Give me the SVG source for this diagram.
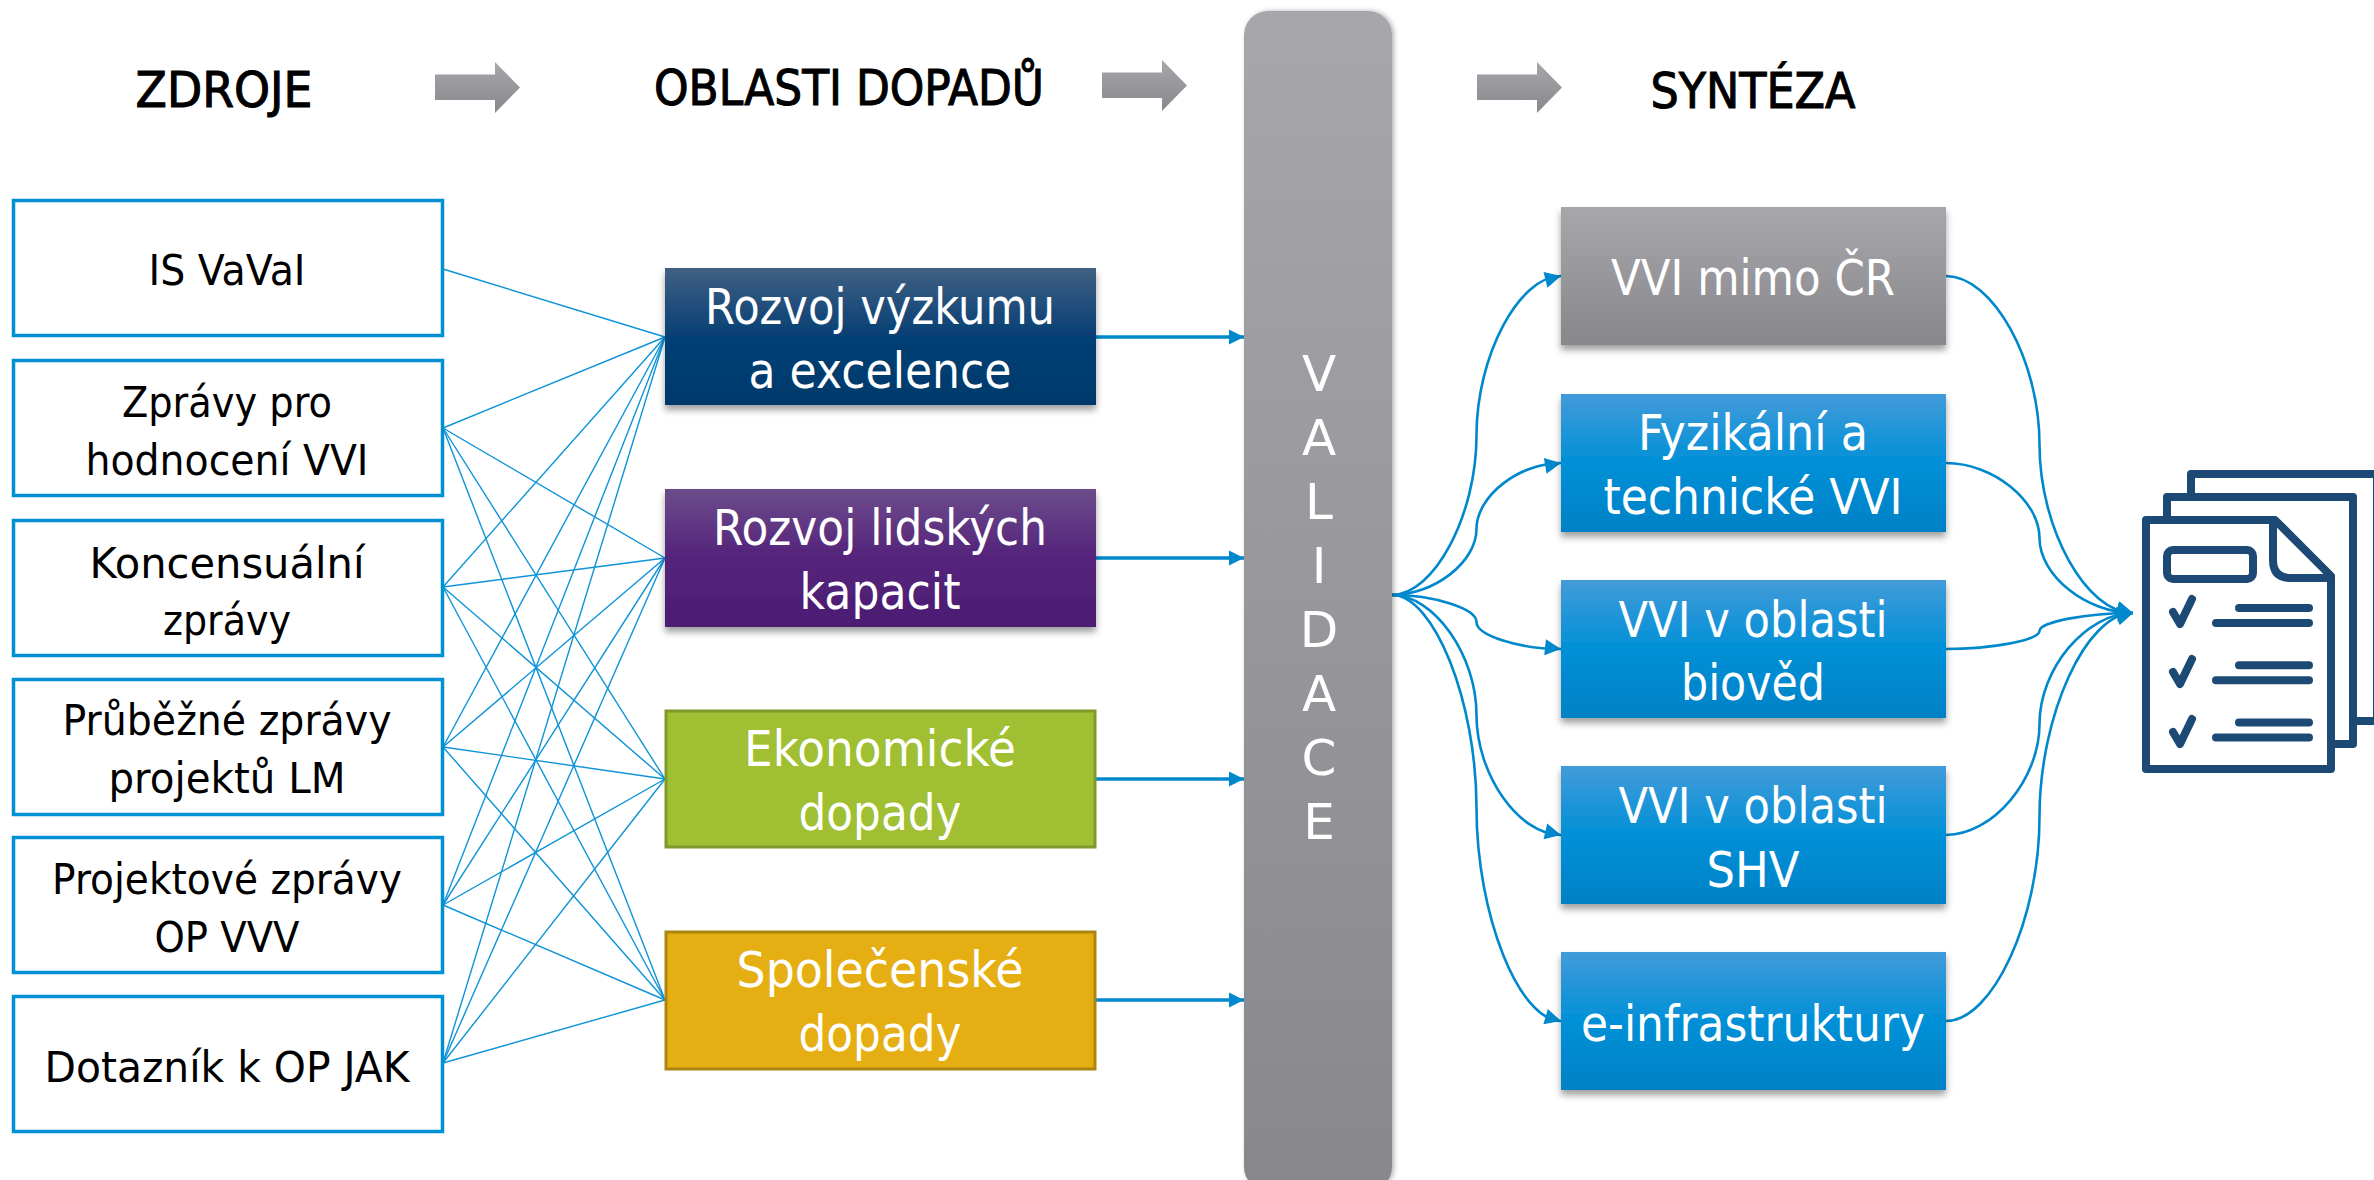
<svg xmlns="http://www.w3.org/2000/svg" width="2374" height="1180" viewBox="0 0 2374 1180">
<style>
text{font-family:"DejaVu Sans","Liberation Sans",sans-serif;text-anchor:middle}
.h{font-size:50px;fill:#000;stroke:#000;stroke-width:1.1px}
.s{font-size:42px;fill:#000}
.w{font-size:50px;fill:#fff}
.src{fill:#fff;stroke:#0090d4;stroke-width:3.5}
.fan{stroke:#0e93d8;stroke-width:1.4;fill:none}
.cv{stroke:#0088cc;stroke-width:2.6;fill:none}
.st{stroke:#0088cc;stroke-width:3.5;fill:none;marker-end:url(#arr)}
.ic{fill:none;stroke:#1c4a75;stroke-width:8;stroke-linejoin:round;stroke-linecap:round}
</style>
<defs>
<linearGradient id="gGray" x1="0" y1="0" x2="0" y2="1"><stop offset="0" stop-color="#a7a6aa"/><stop offset="1" stop-color="#88878c"/></linearGradient>
<linearGradient id="gNavy" x1="0" y1="0" x2="0" y2="1"><stop offset="0" stop-color="#416083"/><stop offset=".5" stop-color="#063f74"/><stop offset="1" stop-color="#03396c"/></linearGradient>
<linearGradient id="gPurple" x1="0" y1="0" x2="0" y2="1"><stop offset="0" stop-color="#6d4c8b"/><stop offset=".5" stop-color="#54237b"/><stop offset="1" stop-color="#4c1d72"/></linearGradient>
<linearGradient id="gBlue" x1="0" y1="0" x2="0" y2="1"><stop offset="0" stop-color="#439bd9"/><stop offset=".5" stop-color="#0090d7"/><stop offset="1" stop-color="#0081c6"/></linearGradient>
<filter id="sh" x="-10%" y="-10%" width="120%" height="125%"><feDropShadow dx="0" dy="5" stdDeviation="3.5" flood-color="#000" flood-opacity=".38"/></filter>
<filter id="shv" x="-10%" y="-2%" width="120%" height="104%"><feDropShadow dx="2" dy="0" stdDeviation="2.5" flood-color="#000" flood-opacity=".3"/></filter>
<marker id="arr" markerUnits="userSpaceOnUse" markerWidth="16" markerHeight="16" refX="15" refY="8" orient="auto"><path d="M0 0.5L15 8L0 15.5z" fill="#0088cc"/></marker>
<path id="head" d="M-16 -8L0 0L-16 8z" fill="#0088cc"/>
<path id="hdarrow" d="M0 12.5H60V0L85 25.5L60 51V38H0z" fill="url(#gGray)"/>
<path id="tick" class="ic" d="M2173 612L2180 624L2192 599"/>
<path id="rows" class="ic" d="M2239 608H2309M2216 623H2309"/>
</defs>

<rect width="2374" height="1180" fill="#fff"/>

<g id="headers">
<text class="h" x="224" y="107" textLength="177" lengthAdjust="spacingAndGlyphs">ZDROJE</text>
<text class="h" x="849" y="105" textLength="390" lengthAdjust="spacingAndGlyphs">OBLASTI DOPADŮ</text>
<text class="h" x="1753" y="108" textLength="205" lengthAdjust="spacingAndGlyphs">SYNTÉZA</text>
<use href="#hdarrow" x="435" y="62"/>
<use href="#hdarrow" x="1102" y="60"/>
<use href="#hdarrow" x="1477" y="62"/>
</g>

<g id="connectors">
<line class="fan" x1="443" y1="269" x2="665" y2="337"/>
<line class="fan" x1="443" y1="428" x2="665" y2="337"/><line class="fan" x1="443" y1="428" x2="665" y2="558"/><line class="fan" x1="443" y1="428" x2="665" y2="779"/><line class="fan" x1="443" y1="428" x2="665" y2="1000"/>
<line class="fan" x1="443" y1="587" x2="665" y2="337"/><line class="fan" x1="443" y1="587" x2="665" y2="558"/><line class="fan" x1="443" y1="587" x2="665" y2="779"/><line class="fan" x1="443" y1="587" x2="665" y2="1000"/>
<line class="fan" x1="443" y1="747" x2="665" y2="337"/><line class="fan" x1="443" y1="747" x2="665" y2="558"/><line class="fan" x1="443" y1="747" x2="665" y2="779"/><line class="fan" x1="443" y1="747" x2="665" y2="1000"/>
<line class="fan" x1="443" y1="905" x2="665" y2="337"/><line class="fan" x1="443" y1="905" x2="665" y2="558"/><line class="fan" x1="443" y1="905" x2="665" y2="779"/><line class="fan" x1="443" y1="905" x2="665" y2="1000"/>
<line class="fan" x1="443" y1="1063" x2="665" y2="337"/><line class="fan" x1="443" y1="1063" x2="665" y2="558"/><line class="fan" x1="443" y1="1063" x2="665" y2="779"/><line class="fan" x1="443" y1="1063" x2="665" y2="1000"/>
<line class="st" x1="1096" y1="337" x2="1244" y2="337"/>
<line class="st" x1="1096" y1="558" x2="1244" y2="558"/>
<line class="st" x1="1096" y1="779" x2="1244" y2="779"/>
<line class="st" x1="1096" y1="1000" x2="1244" y2="1000"/>
<path class="cv" d="M1392 595C1434 595 1476.500 515.250 1476.500 435.500C1476.500 355.750 1519 276 1561 276"/>
<path class="cv" d="M1392 595C1434 595 1476.500 562 1476.500 529C1476.500 496 1519 463 1561 463"/>
<path class="cv" d="M1392 595C1434 595 1476.500 608.500 1476.500 622C1476.500 635.500 1519 649 1561 649"/>
<path class="cv" d="M1392 595C1434 595 1476.500 655 1476.500 715C1476.500 775 1519 835 1561 835"/>
<path class="cv" d="M1392 595C1434 595 1476.500 701.500 1476.500 808C1476.500 914.500 1519 1021 1561 1021"/>
<use href="#head" transform="translate(1561 276) rotate(-14)"/>
<use href="#head" transform="translate(1561 463) rotate(-10)"/>
<use href="#head" transform="translate(1561 649) rotate(6)"/>
<use href="#head" transform="translate(1561 835) rotate(13)"/>
<use href="#head" transform="translate(1561 1021) rotate(16)"/>
<path class="cv" d="M1946 276C1992.750 276 2039.500 360.250 2039.500 444.500C2039.500 528.750 2086.250 613 2133 613"/>
<path class="cv" d="M1946 463C1992.750 463 2039.500 500.500 2039.500 538C2039.500 575.500 2086.250 613 2133 613"/>
<path class="cv" d="M1946 649C1992.750 649 2039.500 640 2039.500 631C2039.500 622 2086.250 613 2133 613"/>
<path class="cv" d="M1946 835C1992.750 835 2039.500 779.500 2039.500 724C2039.500 668.500 2086.250 613 2133 613"/>
<path class="cv" d="M1946 1021C1992.750 1021 2039.500 919 2039.500 817C2039.500 715 2086.250 613 2133 613"/>
<use href="#head" transform="translate(2133 613) rotate(14)"/>
<use href="#head" transform="translate(2133 613) rotate(10)"/>
<use href="#head" transform="translate(2133 613) rotate(-5)"/>
<use href="#head" transform="translate(2133 613) rotate(-13)"/>
<use href="#head" transform="translate(2133 613) rotate(-16)"/>
</g>

<g id="src-1"><rect class="src" x="13.500" y="200.500" width="429" height="135"/><text class="s" x="227" y="285" textLength="157" lengthAdjust="spacingAndGlyphs">IS VaVaI</text></g>
<g id="src-2"><rect class="src" x="13.500" y="360.500" width="429" height="135"/><text class="s" x="227" y="417" textLength="210" lengthAdjust="spacingAndGlyphs">Zprávy pro</text><text class="s" x="227" y="475" textLength="283" lengthAdjust="spacingAndGlyphs">hodnocení VVI</text></g>
<g id="src-3"><rect class="src" x="13.500" y="520.500" width="429" height="135"/><text class="s" x="227" y="578" textLength="275" lengthAdjust="spacingAndGlyphs">Koncensuální</text><text class="s" x="227" y="635" textLength="128" lengthAdjust="spacingAndGlyphs">zprávy</text></g>
<g id="src-4"><rect class="src" x="13.500" y="679.500" width="429" height="135"/><text class="s" x="227" y="735" textLength="329" lengthAdjust="spacingAndGlyphs">Průběžné zprávy</text><text class="s" x="227" y="793" textLength="237" lengthAdjust="spacingAndGlyphs">projektů LM</text></g>
<g id="src-5"><rect class="src" x="13.500" y="837.500" width="429" height="135"/><text class="s" x="227" y="894" textLength="350" lengthAdjust="spacingAndGlyphs">Projektové zprávy</text><text class="s" x="227" y="952" textLength="145" lengthAdjust="spacingAndGlyphs">OP VVV</text></g>
<g id="src-6"><rect class="src" x="13.500" y="996.500" width="429" height="135"/><text class="s" x="227" y="1082" textLength="365" lengthAdjust="spacingAndGlyphs">Dotazník k OP JAK</text></g>

<g id="imp-1"><rect x="665" y="268" width="431" height="137" fill="url(#gNavy)" filter="url(#sh)"/><text class="w" x="880" y="324" textLength="350" lengthAdjust="spacingAndGlyphs">Rozvoj výzkumu</text><text class="w" x="880" y="388" textLength="263" lengthAdjust="spacingAndGlyphs">a excelence</text></g>
<g id="imp-2"><rect x="665" y="489" width="431" height="138" fill="url(#gPurple)" filter="url(#sh)"/><text class="w" x="880" y="545" textLength="334" lengthAdjust="spacingAndGlyphs">Rozvoj lidských</text><text class="w" x="880" y="609" textLength="161" lengthAdjust="spacingAndGlyphs">kapacit</text></g>
<g id="imp-3"><rect x="666" y="711" width="429" height="136" fill="#a0bf32" stroke="#7f9a2a" stroke-width="3"/><text class="w" x="880" y="766" textLength="272" lengthAdjust="spacingAndGlyphs">Ekonomické</text><text class="w" x="880" y="830" textLength="163" lengthAdjust="spacingAndGlyphs">dopady</text></g>
<g id="imp-4"><rect x="666" y="932" width="429" height="137" fill="#e5af14" stroke="#ac850e" stroke-width="3"/><text class="w" x="880" y="987" textLength="287" lengthAdjust="spacingAndGlyphs">Společenské</text><text class="w" x="880" y="1051" textLength="163" lengthAdjust="spacingAndGlyphs">dopady</text></g>

<g id="validace"><rect x="1244" y="11" width="148" height="1180" rx="24" fill="url(#gGray)" filter="url(#shv)"/>
<text class="w" x="1319" y="391">V</text><text class="w" x="1319" y="455">A</text><text class="w" x="1319" y="519">L</text><text class="w" x="1319" y="583">I</text><text class="w" x="1319" y="647">D</text><text class="w" x="1319" y="711">A</text><text class="w" x="1319" y="775">C</text><text class="w" x="1319" y="839">E</text></g>

<g id="syn-1"><rect x="1561" y="207" width="385" height="138" fill="url(#gGray)" filter="url(#sh)"/><text class="w" x="1753" y="295" textLength="284" lengthAdjust="spacingAndGlyphs">VVI mimo ČR</text></g>
<g id="syn-2"><rect x="1561" y="394" width="385" height="138" fill="url(#gBlue)" filter="url(#sh)"/><text class="w" x="1753" y="450" textLength="230" lengthAdjust="spacingAndGlyphs">Fyzikální a</text><text class="w" x="1753" y="514" textLength="299" lengthAdjust="spacingAndGlyphs">technické VVI</text></g>
<g id="syn-3"><rect x="1561" y="580" width="385" height="138" fill="url(#gBlue)" filter="url(#sh)"/><text class="w" x="1753" y="637" textLength="269" lengthAdjust="spacingAndGlyphs">VVI v oblasti</text><text class="w" x="1753" y="700" textLength="144" lengthAdjust="spacingAndGlyphs">biověd</text></g>
<g id="syn-4"><rect x="1561" y="766" width="385" height="138" fill="url(#gBlue)" filter="url(#sh)"/><text class="w" x="1753" y="823" textLength="269" lengthAdjust="spacingAndGlyphs">VVI v oblasti</text><text class="w" x="1753" y="887" textLength="93" lengthAdjust="spacingAndGlyphs">SHV</text></g>
<g id="syn-5"><rect x="1561" y="952" width="385" height="138" fill="url(#gBlue)" filter="url(#sh)"/><text class="w" x="1753" y="1041" textLength="344" lengthAdjust="spacingAndGlyphs">e-infrastruktury</text></g>

<g id="icon">
<path class="ic" d="M2191 493V474H2377V721H2357"/>
<path class="ic" d="M2167 516V497H2353V744H2335"/>
<path class="ic" d="M2146 520H2275L2331 576V769H2146z"/>
<path class="ic" d="M2273 520V560Q2273 578 2291 578H2331"/>
<rect class="ic" x="2167" y="550" width="86" height="29" rx="6"/>
<use href="#tick"/>
<use href="#tick" y="60"/>
<use href="#tick" y="120"/>
<use href="#rows"/>
<use href="#rows" y="57.300"/>
<use href="#rows" y="114.600"/>
</g>
</svg>
